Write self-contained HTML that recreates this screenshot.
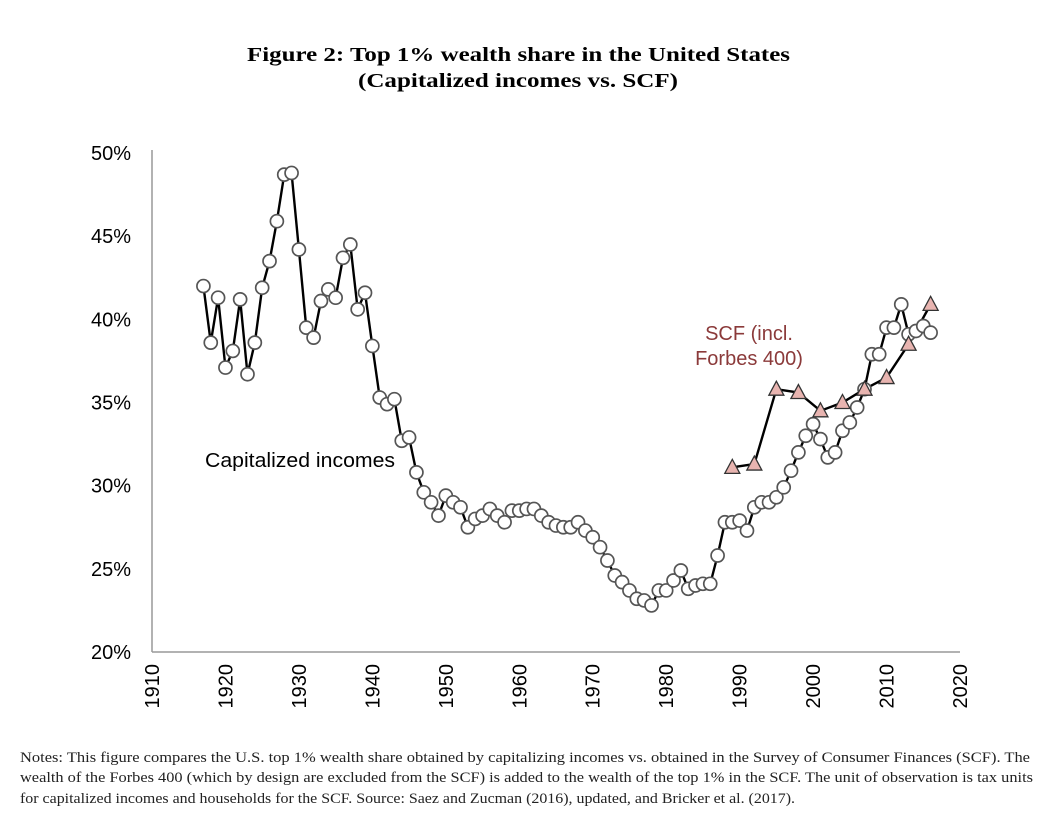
<!DOCTYPE html>
<html><head><meta charset="utf-8"><style>
body{margin:0;background:#fff;width:1048px;height:821px;overflow:hidden}
svg{display:block}
.t{font-family:"Liberation Serif",serif;font-weight:bold;font-size:20px}
.n{font-family:"Liberation Serif",serif;font-size:14.5px;fill:#222}
.a{font-family:"Liberation Sans",sans-serif;font-size:20px;fill:#000}
</style></head><body>
<svg id="c" width="1048" height="821">
<text class="t" x="247" y="61" textLength="543" lengthAdjust="spacingAndGlyphs">Figure 2: Top 1% wealth share in the United States</text>
<text class="t" x="358" y="87" textLength="320" lengthAdjust="spacingAndGlyphs">(Capitalized incomes vs. SCF)</text>
<g id="axes"></g>
<g id="marks"></g>
<text class="a" x="205" y="467" textLength="190" lengthAdjust="spacingAndGlyphs">Capitalized incomes</text>
<text class="a" x="749" y="340" text-anchor="middle" style="fill:#8b3a3a">SCF (incl.</text>
<text class="a" x="749" y="365" text-anchor="middle" style="fill:#8b3a3a">Forbes 400)</text>
<text class="n" x="20" y="762" textLength="1010" lengthAdjust="spacingAndGlyphs">Notes: This figure compares the U.S. top 1% wealth share obtained by capitalizing incomes vs. obtained in the Survey of Consumer Finances (SCF). The</text>
<text class="n" x="20" y="782" textLength="1013" lengthAdjust="spacingAndGlyphs">wealth of the Forbes 400 (which by design are excluded from the SCF) is added to the wealth of the top 1% in the SCF. The unit of observation is tax units</text>
<text class="n" x="20" y="803" textLength="775" lengthAdjust="spacingAndGlyphs">for capitalized incomes and households for the SCF. Source: Saez and Zucman (2016), updated, and Bricker et al. (2017).</text>
</svg>
<script>
const capYears=[];for(let y=1917;y<=2016;y++)capYears.push(y);
const capValues=[42.0,38.6,41.3,37.1,38.1,41.2,36.7,38.6,41.9,43.5,45.9,48.7,48.8,44.2,39.5,38.9,41.1,41.8,41.3,43.7,44.5,40.6,41.6,38.4,35.3,34.9,35.2,32.7,32.9,30.8,29.6,29.0,28.2,29.4,29.0,28.7,27.5,28.0,28.2,28.6,28.2,27.8,28.5,28.5,28.6,28.6,28.2,27.8,27.6,27.5,27.5,27.8,27.3,26.9,26.3,25.5,24.6,24.2,23.7,23.2,23.1,22.8,23.7,23.7,24.3,24.9,23.8,24.0,24.1,24.1,25.8,27.8,27.8,27.9,27.3,28.7,29.0,29.0,29.3,29.9,30.9,32.0,33.0,33.7,32.8,31.7,32.0,33.3,33.8,34.7,35.8,37.9,37.9,39.5,39.5,40.9,39.1,39.3,39.6,39.2];
const scfYears=[1989,1992,1995,1998,2001,2004,2007,2010,2013,2016];
const scfValues=[31.1,31.3,35.8,35.6,34.5,35.0,35.8,36.5,38.5,40.9];
const yTicks=[20,25,30,35,40,45,50];
const xTicks=[1910,1920,1930,1940,1950,1960,1970,1980,1990,2000,2010,2020];
const X=v=>152+(v-1910)*(808/110);
const Y=v=>652-(v-20)*(499/30);
const NS='http://www.w3.org/2000/svg';
function mk(t,a,p){const e=document.createElementNS(NS,t);for(const k in a)e.setAttribute(k,a[k]);p.appendChild(e);return e;}
const ax=document.getElementById('axes'),mg=document.getElementById('marks');
let e=mk('line',{x1:152,y1:150,x2:152,y2:652,stroke:'#999','stroke-width':1.5},ax);


e=mk('line',{x1:152,y1:652,x2:960,y2:652,stroke:'#999','stroke-width':1.5},ax);


yTicks.forEach(v=>{const t=mk('text',{x:131,y:Y(v)+7,'text-anchor':'end',class:'a'},ax);t.textContent=v+'%';

});
xTicks.forEach(v=>{const t=mk('text',{x:0,y:0,'text-anchor':'end',class:'a',transform:`translate(${X(v)+7},664) rotate(-90)`},ax);t.textContent=v;

});
let l=mk('polyline',{points:capYears.map((y,i)=>X(y)+','+Y(capValues[i])).join(' '),fill:'none',stroke:'#000','stroke-width':2.4},mg);


l=mk('polyline',{points:scfYears.map((y,i)=>X(y)+','+Y(scfValues[i])).join(' '),fill:'none',stroke:'#000','stroke-width':2.4},mg);


capYears.forEach((y,i)=>{const c=mk('circle',{cx:X(y),cy:Y(capValues[i]),r:6.5,fill:'#fff',stroke:'#555','stroke-width':1.7},mg);

});
scfYears.forEach((y,i)=>{const cx=X(y),cy=Y(scfValues[i]);const p=mk('polygon',{points:`${cx},${cy-8} ${cx-7.5},${cy+6} ${cx+7.5},${cy+6}`,fill:'#e8b4b0',stroke:'#333','stroke-width':1.3},mg);

});
</script>
</body></html>
